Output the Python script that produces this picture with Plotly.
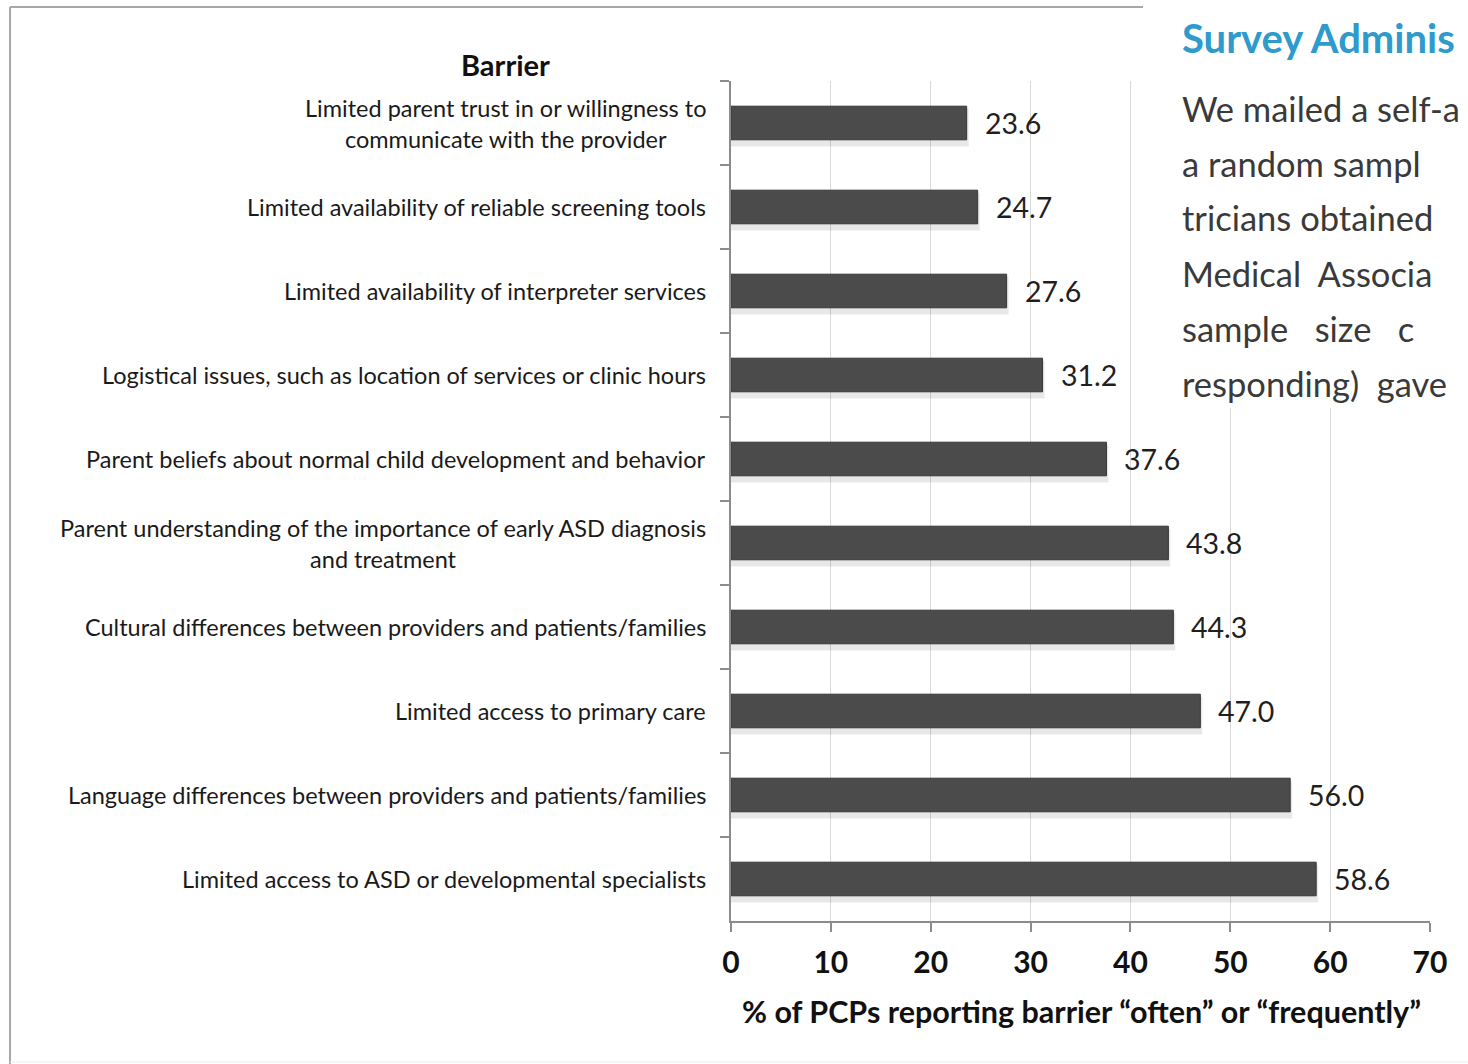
import plotly.graph_objects as go

# ---- data ----
barriers = [
    "Limited parent trust in or willingness to<br>communicate with the provider",
    "Limited availability of reliable screening tools",
    "Limited availability of interpreter services",
    "Logistical issues, such as location of services or clinic hours",
    "Parent beliefs about normal child development and behavior",
    "Parent understanding of the importance of early ASD diagnosis<br>and treatment",
    "Cultural differences between providers and patients/families",
    "Limited access to primary care",
    "Language differences between providers and patients/families",
    "Limited access to ASD or developmental specialists",
]
values = [23.6, 24.7, 27.6, 31.2, 37.6, 43.8, 44.3, 47.0, 56.0, 58.6]
x_ticks = [0, 10, 20, 30, 40, 50, 60, 70]
x_title = "% of PCPs reporting barrier “often” or “frequently”"
y_title = "Barrier"
overlay_heading = "Survey Adminis"
overlay_lines = [
    "We mailed a self-a",
    "a random sampl",
    "tricians obtained",
    "Medical  Associa",
    "sample   size   c",
    "responding)  gave",
]

# ---- geometry (pixels) ----
W, H = 1468, 1064
PL, PR, PT, PB = 731, 1430, 81, 921


def xp(px):
    return (px - PL) / (PR - PL)


def yp(py):
    return (PB - py) / (PB - PT)


FONT = "Lato"
cats = [f"c{i}" for i in range(len(barriers))]

fig = go.Figure()
# soft shadow
fig.add_trace(go.Bar(
    y=cats, x=[v + 0.2 for v in values], orientation="h",
    width=0.45, offset=-0.17,
    marker=dict(color="rgba(0,0,0,0.09)", line=dict(width=0)),
    hoverinfo="skip", showlegend=False,
))
fig.add_trace(go.Bar(
    y=cats, x=values, orientation="h",
    width=0.4, offset=-0.2,
    marker=dict(color="#4b4b4b", line=dict(color="#363636", width=1)),
    showlegend=False,
))

annotations = []
for c, lab in zip(cats, barriers):
    annotations.append(dict(
        x=xp(708), xref="paper", y=c, yref="y", text=lab,
        xanchor="right", yanchor="middle", align="center", showarrow=False,
        font=dict(family=FONT, size=23.5, color="#1a1a1a"),
    ))
for c, v in zip(cats, values):
    annotations.append(dict(
        x=v, xref="x", y=c, yref="y", text=f"{v:.1f}",
        xanchor="left", yanchor="middle", xshift=16, showarrow=False,
        font=dict(family=FONT, size=28.5, color="#1f1f1f"),
    ))
annotations.append(dict(
    x=xp(505), xref="paper", y=yp(64), yref="paper", text=f"<b>{y_title}</b>",
    xanchor="center", yanchor="middle", showarrow=False,
    font=dict(family=FONT, size=29, color="#111111"),
))
annotations.append(dict(
    x=xp(1081), xref="paper", y=yp(1011), yref="paper", text=f"<b>{x_title}</b>",
    xanchor="center", yanchor="middle", showarrow=False,
    font=dict(family=FONT, size=30.5, color="#111111"),
))
# overlaid page text
annotations.append(dict(
    x=xp(1180), xref="paper", y=yp(38), yref="paper", text=f"<b>{overlay_heading}</b>",
    xanchor="left", yanchor="middle", showarrow=False,
    font=dict(family=FONT, size=40, color="#2e9bcc"),
))
for i, line in enumerate(overlay_lines):
    annotations.append(dict(
        x=xp(1180), xref="paper", y=yp(108 + i * 55), yref="paper", text=line,
        xanchor="left", yanchor="middle", showarrow=False,
        font=dict(family=FONT, size=34.5, color="#3a3a3a"),
    ))

shapes = [
    # page frame
    dict(type="line", xref="paper", yref="paper", x0=xp(10), x1=xp(10), y0=yp(7), y1=yp(1064),
         line=dict(color="#a8a8a8", width=2), layer="above"),
    dict(type="line", xref="paper", yref="paper", x0=xp(10), x1=xp(1143), y0=yp(7), y1=yp(7),
         line=dict(color="#a8a8a8", width=2), layer="above"),
    dict(type="line", xref="paper", yref="paper", x0=xp(10), x1=xp(1468), y0=yp(1062), y1=yp(1062),
         line=dict(color="#ececec", width=1), layer="above"),
    # overlaid text block
    dict(type="rect", xref="paper", yref="paper", x0=xp(1143), x1=xp(1470), y0=yp(408), y1=yp(-2),
         fillcolor="#ffffff", line=dict(width=0), layer="above"),
]

fig.update_layout(
    width=W, height=H,
    margin=dict(l=PL, r=W - PR, t=PT, b=H - PB, autoexpand=False),
    paper_bgcolor="white", plot_bgcolor="white",
    barmode="overlay", bargap=0.6,
    annotations=annotations, shapes=shapes,
    font=dict(family=FONT),
)
fig.update_xaxes(
    range=[0, 70], tickvals=x_ticks, ticktext=[str(t) for t in x_ticks],
    showgrid=True, gridcolor="#d9d9d9", gridwidth=1, zeroline=False,
    showline=True, linecolor="#8c8c8c", linewidth=1.5,
    ticks="outside", ticklen=9, tickcolor="#8c8c8c", tickwidth=1.5,
    tickfont=dict(family=FONT, size=30, color="#111111", weight="bold"),
    ticklabelstandoff=5,
    automargin=False,
)
fig.update_yaxes(
    categoryorder="array", categoryarray=cats, autorange="reversed",
    showticklabels=False, showgrid=False, zeroline=False,
    showline=True, linecolor="#8c8c8c", linewidth=1.5,
    ticks="outside", ticklen=9, tickcolor="#8c8c8c", tickwidth=1.5,
    tickson="boundaries", automargin=False,
)

fig.write_html(
    "out.html",
    config={"displayModeBar": False},
    post_script="document.body.style.margin='0';document.body.style.overflow='hidden';",
)
